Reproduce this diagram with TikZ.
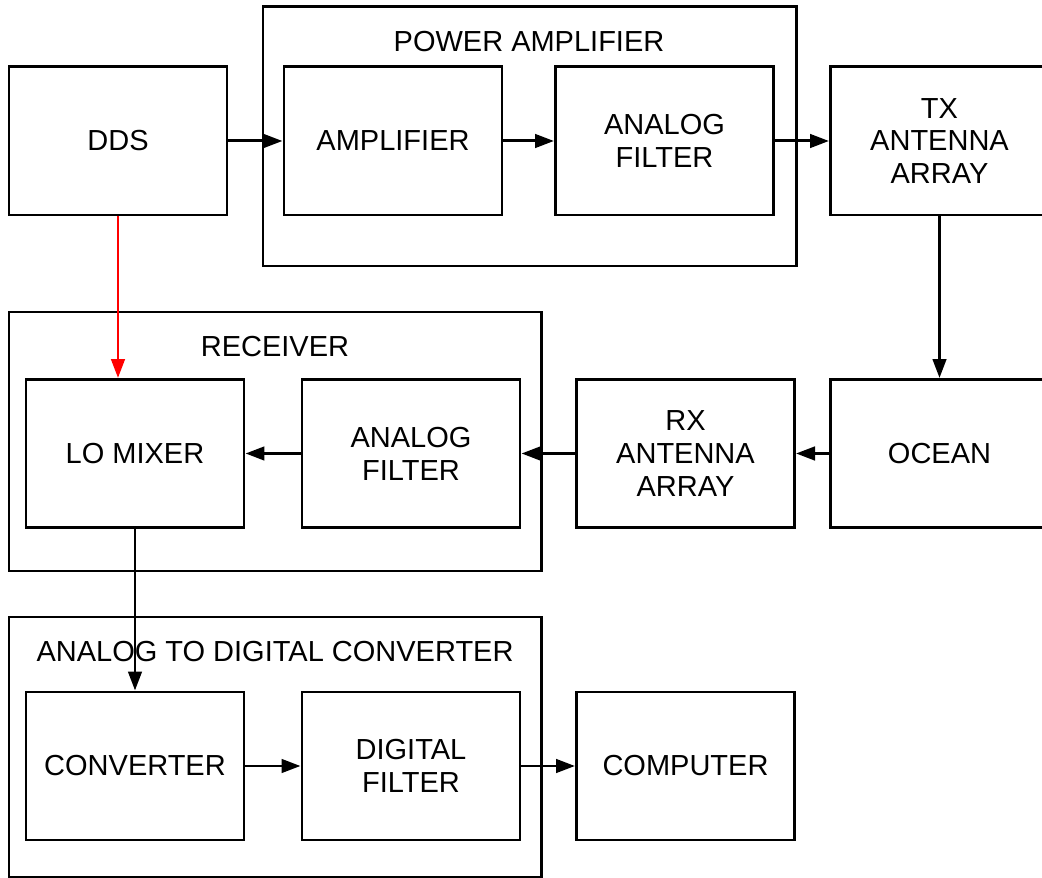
\documentclass[tikz,border=0pt]{standalone}
\usepackage{fontspec}
\setmainfont{Liberation Sans}
\usetikzlibrary{arrows.meta}

\begin{document}
\begin{tikzpicture}[node distance={55mm}, line width=1.7pt, >={Triangle[length=3.8mm, width=2.7mm]},
  block/.style = {draw, minimum width=43.6mm, minimum height=29.6mm, align=center, font=\fontsize{16.5}{18.7}\selectfont},
  group/.style = {draw},
  title/.style = {font=\fontsize{16.5}{18.7}\selectfont}]
\clip (-2.36,2.82) rectangle (18.48,-14.74);
\node[block] (dds) {DDS};
\node[block] (amp) [right of=dds] {AMPLIFIER};
\node[block] (paf) [right of=amp, node distance=54.3mm] {ANALOG\\FILTER};
\node[block] (tx) [right of=paf] {TX\\ANTENNA\\ARRAY};
\node[block] (ocean) [below of=tx, node distance=62.5mm] {OCEAN};
\node[block] (rx) [left of=ocean, node distance=50.8mm] {RX\\ANTENNA\\ARRAY};
\node[block] (raf) [left of=rx, node distance=54.9mm] {ANALOG\\FILTER};
\node[block] (lo) [left of=raf, node distance=55.2mm] {LO MIXER};
\node[block] (conv) [below of=lo, node distance=62.5mm] {CONVERTER};
\node[block] (dig) [right of=conv, node distance=55.2mm] {DIGITAL\\FILTER};
\node[block] (comp) [right of=dig, node distance=54.9mm] {COMPUTER};

% groups
\draw[group] (2.90,2.68) rectangle (13.56,-2.50);
\node[title] (patitle) at (8.22,1.98) {POWER AMPLIFIER};
\draw[group] (-2.18,-3.42) rectangle (8.46,-8.60);
\node[title] (rxtitle) at (3.14,-4.12) {RECEIVER};
\draw[group] (-2.18,-9.52) rectangle (8.46,-14.72);
\node[title] (adctitle) at (3.14,-10.22) {ANALOG TO DIGITAL CONVERTER};

\draw[->] (dds) -- (amp);
\draw[->] (amp) -- (paf);
\draw[->] (paf) -- (tx);
\draw[->] (tx) -- (ocean);
\draw[->] (ocean) -- (rx);
\draw[->] (rx) -- (raf);
\draw[->] (raf) -- (lo);
\draw[->, red] (dds.south) -- (dds.south |- lo.north);
\draw[->] (lo) -- (conv);
\draw[->] (conv) -- (dig);
\draw[->] (dig) -- (comp);
\end{tikzpicture}
\end{document}
